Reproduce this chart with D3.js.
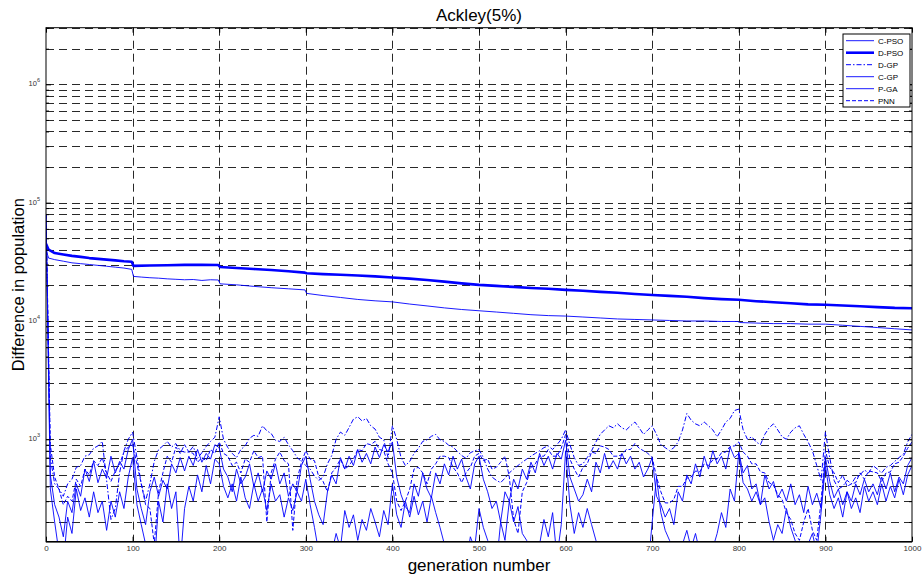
<!DOCTYPE html>
<html>
<head>
<meta charset="utf-8">
<script src="https://cdn.jsdelivr.net/npm/d3@7"></script>
<style>
  body { margin: 0; background: #fff; }
  text { font-family: "Liberation Sans", Arial, Helvetica, sans-serif; }
</style>
</head>
<body>
<div id="chart"></div>
<script>
const width = 922;
const height = 581;
const margin = { top: 27.7, right: 10, left: 46, bottom: 39.3 };

// x ticks and y decades
const xTicks = [0, 100, 200, 300, 400, 500, 600, 700, 800, 900, 1000];
const yMajor = [1e3, 1e4, 1e5, 1e6];
const yDomain = [136.3, 3.01e6];

// upper curves (generation, value)
const cpsoGen = [0, 3, 10, 20, 30, 40, 50, 60, 70, 80, 90, 99, 101, 110, 120, 130, 140, 150, 160, 170, 180, 190, 199, 201, 220, 240, 260, 280, 299, 301, 320, 340, 360, 380, 400, 420, 440, 460, 480, 500, 520, 540, 560, 580, 600, 620, 640, 660, 680, 700, 720, 740, 760, 780, 799, 801, 820, 840, 860, 880, 900, 920, 940, 960, 980, 1000];
const cpsoVal = [40000, 34000, 33000, 32000, 31000, 30500, 30000, 29500, 29000, 28500, 28000, 27300, 23800, 23500, 23200, 23000, 22700, 22500, 22300, 22400, 22000, 22300, 22200, 20600, 20200, 19600, 19100, 18700, 18300, 17100, 16400, 15800, 15200, 14800, 14500, 13900, 13400, 12900, 12500, 12200, 11900, 11600, 11300, 11100, 11000, 10800, 10600, 10400, 10300, 10200, 10100, 10000, 10000, 9900, 9900, 9700, 9600, 9500, 9500, 9400, 9400, 9200, 9000, 8800, 8600, 8400];

const dpsoGen = [0, 3, 10, 20, 30, 40, 50, 60, 70, 80, 90, 99, 101, 120, 140, 160, 180, 199, 201, 220, 240, 260, 280, 299, 301, 320, 340, 360, 380, 400, 420, 440, 460, 480, 500, 520, 540, 560, 580, 600, 620, 640, 660, 680, 700, 720, 740, 760, 780, 800, 820, 840, 860, 880, 900, 920, 940, 960, 980, 1000];
const dpsoVal = [45000, 40000, 37500, 36500, 35500, 34800, 34000, 33500, 33000, 32500, 32000, 31700, 29200, 29400, 29600, 29800, 29800, 29700, 28600, 28000, 27500, 27000, 26300, 25600, 25300, 24900, 24600, 24200, 23800, 23300, 22800, 22200, 21500, 20800, 20200, 19800, 19400, 19000, 18700, 18300, 18000, 17600, 17300, 16900, 16600, 16300, 16000, 15600, 15300, 15100, 14700, 14400, 14100, 13800, 13700, 13500, 13300, 13100, 12900, 12800];

// lower curves, one value every 5 generations (0..1000)
const lowGen = d3.range(0, 1001, 5);

const dgpVal = [
  80000, 700, 420, 380, 330, 420, 460, 580, 600, 720, 740, 840, 880, 960, 450, 210, 260, 520, 800, 1000,
  1150, 700, 420, 300, 420, 650, 820, 880, 960, 860, 920, 800, 780, 780, 870, 690, 770, 870, 960, 1040,
  1550, 1000, 850, 760, 700, 820, 880, 1020, 1080, 1060, 1300, 1180, 1120, 980, 960, 1040, 900, 800, 700, 650,
  600, 560, 490, 450, 480, 620, 730, 1000, 1150, 1080, 1260, 1480, 1550, 1430, 1500, 1300, 1220, 1040, 990, 700,
  1300, 1000, 700, 600, 650, 760, 840, 960, 990, 1060, 1100, 990, 960, 890, 860, 790, 730, 690, 770, 800,
  820, 700, 560, 480, 450, 430, 470, 520, 560, 600, 640, 680, 720, 760, 800, 850, 880, 820, 900, 1000,
  1200, 900, 700, 600, 620, 700, 800, 950, 1100, 1200, 1300, 1250, 1350, 1250, 1200, 1300, 1400, 1250, 1100, 1200,
  1300, 1100, 900, 850, 800, 850, 950, 1200, 1650, 1450, 1350, 1300, 1400, 1300, 1200, 1050, 1200, 1400, 1500, 1750,
  1800, 1200, 1000, 1050, 950, 900, 1100, 1250, 1350, 1200, 1050, 1000, 1150, 1250, 1300, 1100, 950, 800, 600, 450,
  1150, 700, 450, 380, 400, 450, 420, 480, 500, 550, 520, 600, 560, 520, 580, 600, 650, 700, 750, 950,
  1100
];

const pnnVal = [
  80000, 900, 480, 380, 280, 330, 300, 460, 400, 560, 500, 660, 600, 700, 520, 440, 540, 620, 780, 860,
  900, 620, 420, 280, 260, 130, 360, 520, 720, 640, 860, 760, 900, 780, 760, 640, 700, 660, 820, 760,
  950, 760, 720, 600, 640, 520, 680, 640, 800, 700, 720, 200, 520, 680, 780, 660, 620, 170, 460, 640,
  800, 680, 660, 480, 440, 360, 520, 580, 680, 560, 600, 680, 820, 800, 920, 900, 960, 820, 800, 620,
  520, 300, 250, 300, 380, 560, 580, 520, 420, 560, 620, 720, 720, 700, 580, 520, 430, 520, 580, 720,
  760, 660, 680, 560, 580, 640, 720, 480, 210, 160, 360, 430, 580, 620, 720, 720, 820, 720, 720, 840,
  1100, 680, 560, 480, 580, 620, 780, 760, 880, 860, 820, 720, 720, 740, 820, 820, 920, 840, 800, 760,
  700, 480, 360, 290, 290, 310, 400, 400, 470, 480, 540, 530, 620, 600, 670, 680, 770, 780, 870, 880,
  950, 780, 720, 620, 620, 530, 520, 430, 410, 340, 310, 240, 210, 160, 140, 200, 260, 170, 140, 300,
  800, 580, 520, 430, 500, 400, 420, 430, 520, 460, 540, 530, 520, 440, 520, 530, 620, 640, 720, 840,
  950
];

const cgpVal = [
  80000, 500, 280, 220, 150, 300, 240, 420, 330, 560, 440, 650, 430, 560, 470, 720, 520, 650, 560, 820,
  1000, 380, 260, 190, 360, 480, 330, 450, 380, 620, 520, 700, 540, 720, 600, 820, 640, 760, 680, 900,
  850, 560, 480, 360, 560, 420, 480, 620, 400, 520, 360, 540, 460, 620, 420, 520, 330, 420, 360, 600,
  720, 460, 300, 230, 190, 360, 500, 420, 700, 560, 720, 600, 820, 640, 760, 620, 860, 700, 900, 780,
  950, 480, 340, 270, 240, 420, 330, 520, 380, 320, 520, 420, 620, 500, 720, 560, 680, 480, 380, 620,
  720, 460, 360, 260, 300, 200, 360, 300, 460, 380, 560, 460, 640, 520, 760, 600, 720, 560, 760, 680,
  980, 480, 380, 300, 340, 460, 360, 640, 520, 760, 560, 660, 560, 760, 620, 720, 560, 640, 480, 560,
  700, 330, 280, 220, 260, 190, 360, 300, 500, 420, 620, 480, 720, 560, 800, 620, 720, 560, 860, 700,
  760, 430, 380, 300, 360, 280, 500, 380, 440, 320, 380, 300, 420, 280, 340, 240, 400, 280, 350, 260,
  700, 440, 320, 380, 280, 360, 300, 420, 340, 460, 360, 420, 340, 480, 380, 520, 360, 480, 420, 600,
  700
];

const pgaVal = [
  80000, 380, 200, 110, 90, 220, 160, 380, 250, 320, 220, 360, 240, 300, 170, 300, 220, 360, 260, 480,
  700, 280, 190, 130, 100, 80, 300, 200, 420, 260, 360, 90, 260, 400, 300, 500, 360, 600, 420, 680,
  620, 400, 320, 420, 300, 480, 320, 260, 420, 300, 380, 250, 420, 300, 340, 220, 320, 250, 360, 300,
  460, 280, 180, 110, 90, 80, 110, 160, 120, 250, 180, 230, 140, 210, 170, 260, 200, 150, 250, 190,
  420, 230, 180, 300, 220, 330, 230, 300, 200, 330, 240, 180, 130, 110, 90, 130, 100, 85, 150, 120,
  260, 180, 140, 100, 85, 200, 140, 300, 200, 270, 160, 140, 100, 85, 130, 210, 150, 240, 100, 190,
  800, 280, 160, 240, 180, 260, 190, 140, 110, 90, 75, 100, 130, 95, 110, 80, 105, 130, 90, 80,
  200, 480, 240, 170, 140, 110, 90, 130, 170, 120, 160, 110, 90, 80, 120, 160, 240, 180, 380, 300,
  780, 520, 600, 380, 420, 280, 320, 200, 140, 190, 160, 260, 180, 140, 110, 90, 130, 160, 110, 240,
  600, 340, 260, 320, 220, 360, 260, 320, 240, 400, 300, 360, 280, 420, 300, 400, 320, 460, 340, 500,
  600
];

const seriesNames = ['C-PSO', 'D-PSO', 'D-GP', 'C-GP', 'P-GA', 'PNN'];

const lineStyles = {
  'C-PSO': { w: 0.9, dash: null },
  'D-PSO': { w: 2.6, dash: null },
  'D-GP': { w: 1, dash: '5,2,1.5,2' },
  'C-GP': { w: 0.9, dash: null },
  'P-GA': { w: 0.9, dash: null },
  'PNN': { w: 1, dash: '4,2' }
};

const series = [
  { name: 'C-PSO', gen: cpsoGen, val: cpsoVal },
  { name: 'D-PSO', gen: dpsoGen, val: dpsoVal },
  { name: 'C-GP', gen: lowGen, val: cgpVal },
  { name: 'P-GA', gen: lowGen, val: pgaVal },
  { name: 'PNN', gen: lowGen, val: pnnVal },
  { name: 'D-GP', gen: lowGen, val: dgpVal }
];

const blue = '#0000ff';

const svg = d3.select('#chart')
  .append('svg')
  .attr('width', width)
  .attr('height', height);

const xScale = d3.scaleLinear()
  .domain([0, 1000])
  .range([margin.left, width - margin.right]);

const yScale = d3.scaleLog()
  .domain(yDomain)
  .range([height - margin.bottom, margin.top]);

// minor values 2..9 x 10^k inside the domain
const yMinor = [];
[100, 1000, 10000, 100000, 1000000].forEach(base => {
  for (let m = 2; m <= 9; m++) {
    const v = m * base;
    if (v > yDomain[0] && v < yDomain[1]) yMinor.push(v);
  }
});

const plotL = margin.left, plotR = width - margin.right;
const plotT = margin.top, plotB = height - margin.bottom;

// grid
const grid = svg.append('g')
  .attr('stroke', '#111')
  .attr('stroke-width', 0.9)
  .attr('stroke-dasharray', '8,5');

grid.selectAll('line.gy')
  .data(yMajor.concat(yMinor))
  .join('line')
  .attr('class', 'gy')
  .attr('x1', plotL).attr('x2', plotR)
  .attr('y1', d => Math.round(yScale(d)) + 0.5)
  .attr('y2', d => Math.round(yScale(d)) + 0.5);

grid.selectAll('line.gx')
  .data(xTicks.slice(1, -1))
  .join('line')
  .attr('class', 'gx')
  .attr('y1', plotT).attr('y2', plotB)
  .attr('x1', d => Math.round(xScale(d)) + 0.5)
  .attr('x2', d => Math.round(xScale(d)) + 0.5);

// data lines
svg.append('clipPath').attr('id', 'clip')
  .append('rect')
  .attr('x', plotL).attr('y', plotT)
  .attr('width', plotR - plotL).attr('height', plotB - plotT);

const line = d3.line()
  .x(d => xScale(d[0]))
  .y(d => yScale(Math.max(d[1], 1)));

svg.append('g')
  .attr('clip-path', 'url(#clip)')
  .selectAll('path')
  .data(series)
  .join('path')
  .attr('fill', 'none')
  .attr('stroke', blue)
  .attr('stroke-linejoin', 'round')
  .attr('stroke-width', d => lineStyles[d.name].w)
  .attr('stroke-dasharray', d => lineStyles[d.name].dash)
  .attr('d', d => line(d.gen.map((g, i) => [g, d.val[i]])));

// axes (ticks inside, like matlab)
const xAxis = d3.axisBottom(xScale).tickValues(xTicks).tickSize(-5).tickPadding(4).tickFormat(d3.format('d'));
const xTop = d3.axisTop(xScale).tickValues(xTicks).tickSize(-5).tickFormat('');
const yLeft = d3.axisLeft(yScale).tickValues(yMajor).tickSize(-5).tickFormat('');
const yLeftMinor = d3.axisLeft(yScale).tickValues(yMinor).tickSize(-3).tickFormat('');
const yRight = d3.axisRight(yScale).tickValues(yMajor).tickSize(-5).tickFormat('');
const yRightMinor = d3.axisRight(yScale).tickValues(yMinor).tickSize(-3).tickFormat('');

function styleAxis(g) {
  g.select('.domain').remove();
  g.selectAll('line').attr('stroke', '#000');
}

svg.append('g').attr('transform', `translate(0,${plotB})`).call(xAxis).call(styleAxis)
  .selectAll('text').attr('font-size', 8).attr('fill', '#333');
svg.append('g').attr('transform', `translate(0,${plotT})`).call(xTop).call(styleAxis);
svg.append('g').attr('transform', `translate(${plotL},0)`).call(yLeft).call(styleAxis);
svg.append('g').attr('transform', `translate(${plotL},0)`).call(yLeftMinor).call(styleAxis);
svg.append('g').attr('transform', `translate(${plotR},0)`).call(yRight).call(styleAxis);
svg.append('g').attr('transform', `translate(${plotR},0)`).call(yRightMinor).call(styleAxis);

// y tick labels 10^k
const yLab = svg.append('g').selectAll('text')
  .data(yMajor)
  .join('text')
  .attr('x', plotL - 6)
  .attr('y', d => yScale(d) + 2)
  .attr('text-anchor', 'end')
  .attr('font-size', 7.5)
  .attr('fill', '#333');
yLab.append('tspan').text('10');
yLab.append('tspan')
  .attr('dy', -4)
  .attr('font-size', 5.5)
  .text(d => Math.round(Math.log10(d)));

// box
svg.append('rect')
  .attr('x', plotL).attr('y', plotT)
  .attr('width', plotR - plotL).attr('height', plotB - plotT)
  .attr('fill', 'none')
  .attr('stroke', '#000')
  .attr('stroke-width', 1);
svg.append('line')
  .attr('x1', plotL).attr('x2', plotR)
  .attr('y1', plotB).attr('y2', plotB)
  .attr('stroke', '#000').attr('stroke-width', 1.6);

// titles
svg.append('text')
  .attr('x', (plotL + plotR) / 2)
  .attr('y', 21)
  .attr('text-anchor', 'middle')
  .attr('font-size', 17)
  .text('Ackley(5%)');

svg.append('text')
  .attr('x', (plotL + plotR) / 2)
  .attr('y', 571)
  .attr('text-anchor', 'middle')
  .attr('font-size', 17)
  .text('generation number');

svg.append('text')
  .attr('transform', `translate(24,${(plotT + plotB) / 2}) rotate(-90)`)
  .attr('text-anchor', 'middle')
  .attr('font-size', 16.5)
  .text('Difference in population');

// legend
const legend = svg.append('g').attr('transform', 'translate(843,34)');
legend.append('rect')
  .attr('width', 67).attr('height', 73)
  .attr('fill', '#fff')
  .attr('stroke', '#000')
  .attr('stroke-width', 1);

const item = legend.selectAll('g.item')
  .data(seriesNames)
  .join('g')
  .attr('class', 'item')
  .attr('transform', (d, i) => `translate(0,${6.7 + i * 12})`);

item.append('line')
  .attr('x1', 3).attr('x2', 31)
  .attr('stroke', blue)
  .attr('stroke-width', d => lineStyles[d].w)
  .attr('stroke-dasharray', d => lineStyles[d].dash);

item.append('text')
  .attr('x', 35)
  .attr('y', 3)
  .attr('font-size', 8)
  .text(d => d);
</script>
</body>
</html>
